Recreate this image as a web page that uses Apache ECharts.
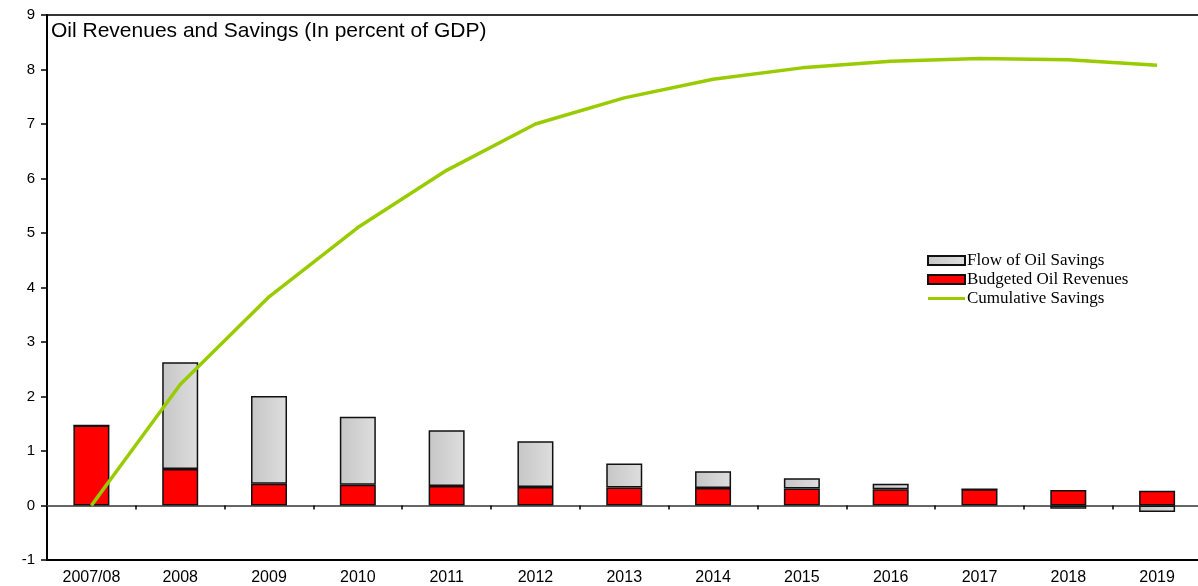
<!DOCTYPE html>
<html>
<head>
<meta charset="utf-8">
<script src="https://cdn.jsdelivr.net/npm/echarts@6/dist/echarts.min.js"></script>
<style>
  html, body { margin: 0; padding: 0; background: #fff; overflow: hidden; }
  #chart { width: 1202px; height: 586px; }
</style>
</head>
<body>
<div id="chart"></div>
<script>
// Fiscal years on the category axis
const years = ['2007/08', '2008', '2009', '2010', '2011', '2012', '2013', '2014', '2015', '2016', '2017', '2018', '2019'];
// Oil revenues allocated to the budget (percent of GDP)
const budgetedOilRevenues = [1.47, 0.67, 0.40, 0.38, 0.36, 0.34, 0.33, 0.32, 0.31, 0.30, 0.30, 0.285, 0.27];
// Yearly flow into oil savings (percent of GDP)
const flowOfOilSavings = [0, 1.96, 1.61, 1.25, 1.02, 0.84, 0.44, 0.31, 0.19, 0.10, 0, -0.06, -0.12];
// Accumulated savings (percent of GDP)
const cumulativeSavings = [0, 2.22, 3.83, 5.1, 6.15, 7.0, 7.48, 7.82, 8.03, 8.15, 8.2, 8.18, 8.08];
// Value-axis range and step
const yMin = -1, yMax = 9, yStep = 1;

const chart = echarts.init(document.getElementById('chart'), null, { renderer: 'canvas' });

const sansFont = 'Liberation Sans, Arial, sans-serif';
const serifFont = 'Liberation Serif, Times New Roman, serif';

chart.setOption({
  animation: false,
  backgroundColor: '#ffffff',
  title: {
    text: 'Oil Revenues and Savings (In percent of GDP)',
    left: 46,
    top: 16,
    textStyle: { fontFamily: sansFont, fontSize: 21, fontWeight: 'normal', color: '#000' }
  },
  legend: {
    orient: 'vertical',
    left: 922,
    top: 247,
    itemWidth: 37,
    itemHeight: 9,
    itemGap: 2,
    symbolKeepAspect: true,
    data: [
      { name: 'Flow of Oil Savings', icon: 'rect' },
      { name: 'Budgeted Oil Revenues', icon: 'rect' },
      { name: 'Cumulative Savings', icon: 'path://M0,0 L37,0 L37,3 L0,3 Z', itemStyle: { color: '#99cc00', borderWidth: 0 } }
    ],
    textStyle: { fontFamily: serifFont, fontSize: 17, color: '#000', padding: [0, 0, 0, -3] }
  },
  grid: {
    left: 47,
    top: 15,
    right: 0.5,
    bottom: 25,
    show: true,
    borderColor: '#333',
    borderWidth: 2,
    backgroundColor: 'transparent'
  },
  xAxis: [
    {
      type: 'category',
      data: years,
      position: 'bottom',
      axisLine: { onZero: true, lineStyle: { color: '#666', width: 2 } },
      axisTick: { show: true, length: 4, lineStyle: { color: '#000', width: 1.5 } },
      axisLabel: { show: false },
      splitLine: { show: false }
    },
    {
      type: 'category',
      data: years,
      position: 'bottom',
      axisLine: { onZero: false, lineStyle: { color: '#000', width: 2 } },
      axisTick: { show: false },
      axisLabel: { show: true, margin: 10, fontFamily: sansFont, fontSize: 16, color: '#000' },
      splitLine: { show: false }
    }
  ],
  yAxis: {
    type: 'value',
    min: yMin,
    max: yMax,
    interval: yStep,
    axisLine: { show: true, lineStyle: { color: '#000', width: 2 } },
    axisTick: { show: true, length: 6, lineStyle: { color: '#000', width: 1.5 } },
    axisLabel: { margin: 12, fontFamily: sansFont, fontSize: 15, color: '#000' },
    splitLine: { show: false }
  },
  series: [
    {
      name: 'Budgeted Oil Revenues',
      type: 'bar',
      stack: 'oil',
      xAxisIndex: 0,
      barWidth: 36,
      data: budgetedOilRevenues,
      itemStyle: { color: '#ff0000', borderColor: '#111', borderWidth: 1.5 }
    },
    {
      name: 'Flow of Oil Savings',
      type: 'bar',
      stack: 'oil',
      xAxisIndex: 0,
      barWidth: 36,
      data: flowOfOilSavings,
      itemStyle: {
        color: new echarts.graphic.LinearGradient(0, 0, 1, 0, [
          { offset: 0, color: '#c6c6c6' },
          { offset: 1, color: '#dedede' }
        ]),
        borderColor: '#111',
        borderWidth: 1.5
      }
    },
    {
      name: 'Cumulative Savings',
      type: 'line',
      xAxisIndex: 0,
      data: cumulativeSavings,
      symbol: 'none',
      z: 5,
      lineStyle: { color: '#99cc00', width: 3.5 },
      itemStyle: { color: '#99cc00' }
    }
  ]
});
</script>
</body>
</html>
